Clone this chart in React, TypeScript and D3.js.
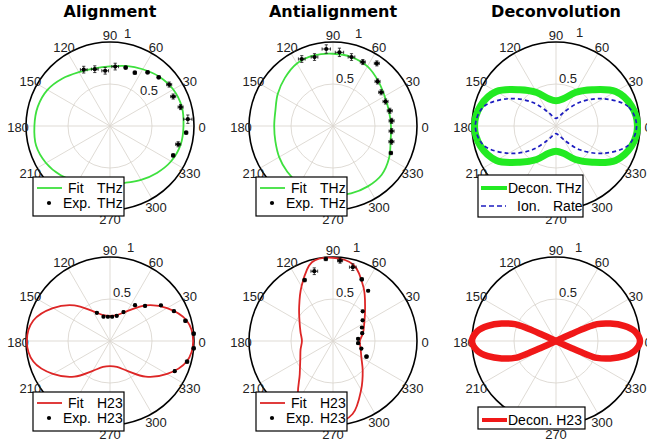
import React from 'react';
import * as d3 from 'd3';

const W = 647;
const H = 448;
const R = 84;
const COL_X = [110, 333, 556];
const ROW_Y = [126, 341];

const TITLES = ['Alignment', 'Antialignment', 'Deconvolution'];
const SPOKE_ANGLES = [0, 30, 60, 90, 120, 150, 180, 210, 240, 270, 300, 330];
// 240 label lies under the legend box in the reference, so it is not shown
const ANGLE_LABELS = [0, 30, 60, 90, 120, 150, 180, 210, 270, 300, 330];
const GRID_RINGS = [0.5];

// Fit curves sampled every 15 degrees (0..345)
const FIT_ANGLES = [0, 15, 30, 45, 60, 75, 90, 105, 120, 135, 150, 165, 180, 195, 210, 225, 240, 255, 270, 285, 300, 315, 330, 345];
const FIT_ALIGN_THZ = [0.875, 0.885, 0.87, 0.83, 0.78, 0.74, 0.71, 0.71, 0.74, 0.8, 0.86, 0.89, 0.9, 0.91, 0.88, 0.83, 0.77, 0.71, 0.69, 0.7, 0.74, 0.79, 0.84, 0.87];
const FIT_ANTI_THZ = [0.69, 0.69, 0.71, 0.76, 0.82, 0.85, 0.86, 0.87, 0.86, 0.81, 0.76, 0.71, 0.7, 0.71, 0.74, 0.77, 0.8, 0.82, 0.82, 0.83, 0.83, 0.82, 0.77, 0.71];
const DECON_THZ = [0.97, 0.93, 0.82, 0.61, 0.46, 0.335, 0.3, 0.335, 0.46, 0.61, 0.82, 0.93, 0.97, 0.93, 0.82, 0.61, 0.46, 0.335, 0.3, 0.335, 0.46, 0.61, 0.82, 0.93];
const ION_RATE = [0.96, 0.89, 0.65, 0.4, 0.19, 0.11, 0.09, 0.11, 0.19, 0.4, 0.65, 0.89, 0.96, 0.89, 0.65, 0.4, 0.19, 0.11, 0.09, 0.11, 0.19, 0.4, 0.65, 0.89];
const FIT_ALIGN_H23 = [0.99, 0.945, 0.785, 0.6, 0.41, 0.32, 0.3, 0.32, 0.41, 0.6, 0.785, 0.945, 0.99, 0.945, 0.785, 0.6, 0.41, 0.32, 0.3, 0.32, 0.41, 0.6, 0.785, 0.945];
const FIT_ANTI_H23 = [0.32, 0.37, 0.43, 0.54, 0.73, 0.94, 0.99, 0.97, 0.75, 0.57, 0.46, 0.4, 0.37, 0.4, 0.45, 0.56, 0.82, 0.96, 0.99, 0.9, 0.67, 0.5, 0.39, 0.34];

// Deconvolved H23 lobe (right lobe; left lobe is the same shifted by 180 deg)
const DECON_H23_ANGLES = [-25, -24.5, -23.8, -22.3, -17.8, -12.6, -7.4, 0, 7.4, 12.6, 17.8, 22.3, 23.8, 24.5, 25];
const DECON_H23 = [0, 0.2, 0.36, 0.53, 0.68, 0.83, 0.94, 1.0, 0.94, 0.83, 0.68, 0.53, 0.36, 0.2, 0];

// Experimental points
const EXP_ANGLES = [115, 105, 95, 85, 75, 65, 55, 45, 35, 25, 15, 5, -5, -15, -25];
const EXP_ALIGN_THZ = [0.74, 0.7, 0.66, 0.71, 0.72, 0.7, 0.78, 0.82, 0.86, 0.83, 0.87, 0.93, 0.91, 0.84, 0.83];
const ERR_ALIGN_THZ = [0.04, 0.04, 0.04, 0.04, 0.02, 0.02, 0.02, 0.02, 0.03, 0.03, 0.03, 0.05, 0.02, 0.03, 0.02];
const EXP_ANTI_THZ = [0.88, 0.85, 0.92, 0.88, 0.85, 0.84, 0.91, 0.75, 0.7, 0.69, 0.7, 0.7, 0.7, 0.72, 0.76];
const ERR_ANTI_THZ = [0.04, 0.04, 0.05, 0.05, 0.04, 0.03, 0.03, 0.03, 0.03, 0.03, 0.03, 0.03, 0.03, 0.03, 0.02];
const EXP_ALIGN_H23 = [0.37, 0.3, 0.29, 0.29, 0.31, 0.38, 0.52, 0.59, 0.74, 0.84, 0.93, 1.0, 1.0, 0.95, 0.85];
const ERR_ALIGN_H23 = [0.01, 0.01, 0.01, 0.01, 0.01, 0.01, 0.01, 0.01, 0.01, 0.01, 0.02, 0.02, 0.02, 0.02, 0.01];
const EXP_ANTI_H23 = [0.8, 0.86, 0.98, 0.96, 0.91, 0.81, 0.73, 0.5, 0.43, 0.38, 0.36, 0.3, 0.3, 0.35, 0.44];
const ERR_ANTI_H23 = [0.02, 0.04, 0.02, 0.03, 0.04, 0.02, 0.01, 0.01, 0.01, 0.01, 0.01, 0.01, 0.01, 0.01, 0.02];

const GREEN = '#3ee03e';
const GREEN_BAND = '#22ea22';
const RED = '#dd2626';
const RED_BAND = '#f01818';
const BLUE = '#1c1cc0';
const GRID = '#dbd7d0';
const TICK_FONT = '"Liberation Sans", Arial, sans-serif';

const rScale = d3.scaleLinear().domain([0, 1]).range([0, R]);

type Curve = {
  angles: number[];
  values: number[];
  color: string;
  width: number;
  dash?: string;
  closed: boolean;
  mirror?: boolean;
};

type Exp = { angles: number[]; values: number[]; errs: number[] };

type LegendRow = {
  y: number;
  sym: 'line' | 'dot' | 'dash' | 'thick';
  color: string;
  x1: number;
  x2: number;
  texts: [string, number][];
};

type Legend = { x: number; y: number; w: number; h: number; rows: LegendRow[] };

type PanelProps = {
  cx: number;
  cy: number;
  title?: string;
  curves: Curve[];
  exp?: Exp;
  legend: Legend;
  halfLabel: [number, number];
  oneLabel: [number, number];
};

const rad = (a: number) => (a * Math.PI) / 180;

function Panel({ cx, cy, title, curves, exp, legend, halfLabel, oneLabel }: PanelProps) {
  const pathFor = (angles: number[], values: number[], closed: boolean, shift = 0) => {
    const pts = angles.map((a, i) => [a + shift, values[i]] as [number, number]);
    const gen = d3
      .lineRadial<[number, number]>()
      .angle((d) => rad(90 - d[0]))
      .radius((d) => rScale(d[1]))
      .curve(closed ? d3.curveCatmullRomClosed.alpha(0.5) : d3.curveCatmullRom.alpha(0.5));
    return gen(pts) || '';
  };

  return (
    <g>
      {title && (
        <text
          x={cx}
          y={17}
          textAnchor="middle"
          fontFamily='"DejaVu Sans", sans-serif'
          fontWeight="bold"
          fontSize={16}
          fill="#000"
        >
          {title}
        </text>
      )}
      <g transform={`translate(${cx},${cy})`}>
        {SPOKE_ANGLES.map((a) => (
          <line
            key={'s' + a}
            x1={0}
            y1={0}
            x2={rScale(1) * Math.cos(rad(a))}
            y2={-rScale(1) * Math.sin(rad(a))}
            stroke={GRID}
            strokeWidth={0.9}
          />
        ))}
        {GRID_RINGS.map((g) => (
          <circle key={'g' + g} r={rScale(g)} fill="none" stroke={GRID} strokeWidth={0.9} />
        ))}
        <circle r={rScale(1)} fill="none" stroke="#000" strokeWidth={1.6} />
        {ANGLE_LABELS.map((a) => (
          <text
            key={'t' + a}
            x={(R + 8) * Math.cos(rad(a))}
            y={-(R + 8) * Math.sin(rad(a)) + 6}
            textAnchor="middle"
            fontFamily={TICK_FONT}
            fontSize={13}
            fill="#222"
          >
            {a}
          </text>
        ))}
        <text x={halfLabel[0]} y={halfLabel[1]} fontFamily={TICK_FONT} fontSize={13} fill="#222">
          0.5
        </text>
        <text x={oneLabel[0]} y={oneLabel[1]} fontFamily={TICK_FONT} fontSize={13} fill="#222">
          1
        </text>
        {curves.map((c, i) => (
          <g key={'c' + i}>
            <path
              d={pathFor(c.angles, c.values, c.closed)}
              fill="none"
              stroke={c.color}
              strokeWidth={c.width}
              strokeDasharray={c.dash}
              strokeLinejoin="round"
            />
            {c.mirror && (
              <path
                d={pathFor(c.angles, c.values, c.closed, 180)}
                fill="none"
                stroke={c.color}
                strokeWidth={c.width}
                strokeLinejoin="round"
              />
            )}
          </g>
        ))}
        {exp &&
          exp.angles.map((a, i) => {
            const r = rScale(exp.values[i]);
            const x = r * Math.cos(rad(a));
            const y = -r * Math.sin(rad(a));
            const e = rScale(exp.errs[i]);
            const cap = 1.6;
            const d = `M${x},${y - e}V${y + e}M${x - cap},${y - e}H${x + cap}M${x - cap},${y + e}H${x + cap}` +
              `M${x - e},${y}H${x + e}M${x - e},${y - cap}V${y + cap}M${x + e},${y - cap}V${y + cap}`;
            return (
              <g key={'e' + i}>
                <path d={d} stroke="#111" strokeWidth={0.8} fill="none" />
                <circle cx={x} cy={y} r={2.1} fill="#000" />
              </g>
            );
          })}
        <g>
          <rect
            x={legend.x}
            y={legend.y}
            width={legend.w}
            height={legend.h}
            fill="#fff"
            stroke="#000"
            strokeWidth={1.2}
          />
          {legend.rows.map((row, i) => (
            <g key={'l' + i}>
              {row.sym === 'dot' ? (
                <circle cx={row.x1} cy={row.y} r={2.1} fill="#000" />
              ) : (
                <line
                  x1={row.x1}
                  x2={row.x2}
                  y1={row.y}
                  y2={row.y}
                  stroke={row.color}
                  strokeWidth={row.sym === 'thick' ? 4 : row.sym === 'dash' ? 1.6 : 1.8}
                  strokeDasharray={row.sym === 'dash' ? '5 3' : undefined}
                />
              )}
              {row.texts.map(([t, tx], j) => (
                <text
                  key={j}
                  x={tx}
                  y={row.y + 5}
                  fontFamily={TICK_FONT}
                  fontSize={14}
                  fill="#000"
                >
                  {t}
                </text>
              ))}
            </g>
          ))}
        </g>
      </g>
    </g>
  );
}

const twoRowLegend = (color: string, tag: string): Legend => ({
  x: -77,
  y: 51,
  w: 91,
  h: 39,
  rows: [
    { y: 62, sym: 'line', color, x1: -73, x2: -48, texts: [['Fit', -42], [tag, -13]] },
    { y: 77, sym: 'dot', color: '#000', x1: -61, x2: -61, texts: [['Exp.', -47], [tag, -13]] },
  ],
});

export default function App() {
  return (
    <svg
      width={W}
      height={H}
      viewBox={`0 0 ${W} ${H}`}
      style={{ position: 'absolute', left: 0, top: 0, display: 'block', background: '#fff' }}
    >
      <rect width={W} height={H} fill="#fff" />
      <Panel
        cx={COL_X[0]}
        cy={ROW_Y[0]}
        title={TITLES[0]}
        curves={[{ angles: FIT_ANGLES, values: FIT_ALIGN_THZ, color: GREEN, width: 1.8, closed: true }]}
        exp={{ angles: EXP_ANGLES, values: EXP_ALIGN_THZ, errs: ERR_ALIGN_THZ }}
        legend={twoRowLegend(GREEN, 'THz')}
        halfLabel={[30, -31]}
        oneLabel={[14, -88]}
      />
      <Panel
        cx={COL_X[1]}
        cy={ROW_Y[0]}
        title={TITLES[1]}
        curves={[{ angles: FIT_ANGLES, values: FIT_ANTI_THZ, color: GREEN, width: 1.8, closed: true }]}
        exp={{ angles: EXP_ANGLES, values: EXP_ANTI_THZ, errs: ERR_ANTI_THZ }}
        legend={twoRowLegend(GREEN, 'THz')}
        halfLabel={[3, -43]}
        oneLabel={[22, -88]}
      />
      <Panel
        cx={COL_X[2]}
        cy={ROW_Y[0]}
        title={TITLES[2]}
        curves={[
          { angles: FIT_ANGLES, values: DECON_THZ, color: GREEN_BAND, width: 7, closed: true },
          { angles: FIT_ANGLES, values: ION_RATE, color: BLUE, width: 1.7, dash: '4 3', closed: true },
        ]}
        legend={{
          x: -78,
          y: 49,
          w: 105,
          h: 42,
          rows: [
            { y: 62, sym: 'thick', color: GREEN_BAND, x1: -75, x2: -49, texts: [['Decon. THz', -48]] },
            { y: 80, sym: 'dash', color: BLUE, x1: -75, x2: -50, texts: [['Ion.', -39], ['Rate', -3]] },
          ],
        }}
        halfLabel={[3, -43]}
        oneLabel={[20, -89]}
      />
      <Panel
        cx={COL_X[0]}
        cy={ROW_Y[1]}
        curves={[{ angles: FIT_ANGLES, values: FIT_ALIGN_H23, color: RED, width: 1.8, closed: true }]}
        exp={{ angles: EXP_ANGLES, values: EXP_ALIGN_H23, errs: ERR_ALIGN_H23 }}
        legend={twoRowLegend(RED, 'H23')}
        halfLabel={[3, -44]}
        oneLabel={[17, -89]}
      />
      <Panel
        cx={COL_X[1]}
        cy={ROW_Y[1]}
        curves={[{ angles: FIT_ANGLES, values: FIT_ANTI_H23, color: RED, width: 1.8, closed: true }]}
        exp={{ angles: EXP_ANGLES, values: EXP_ANTI_H23, errs: ERR_ANTI_H23 }}
        legend={twoRowLegend(RED, 'H23')}
        halfLabel={[3, -44]}
        oneLabel={[20, -89]}
      />
      <Panel
        cx={COL_X[2]}
        cy={ROW_Y[1]}
        curves={[
          { angles: DECON_H23_ANGLES, values: DECON_H23, color: RED_BAND, width: 6.5, closed: false, mirror: true },
        ]}
        legend={{
          x: -78,
          y: 66,
          w: 107,
          h: 22,
          rows: [{ y: 79, sym: 'thick', color: RED_BAND, x1: -74, x2: -49, texts: [['Decon. H23', -48]] }],
        }}
        halfLabel={[3, -44]}
        oneLabel={[19, -89]}
      />
    </svg>
  );
}
